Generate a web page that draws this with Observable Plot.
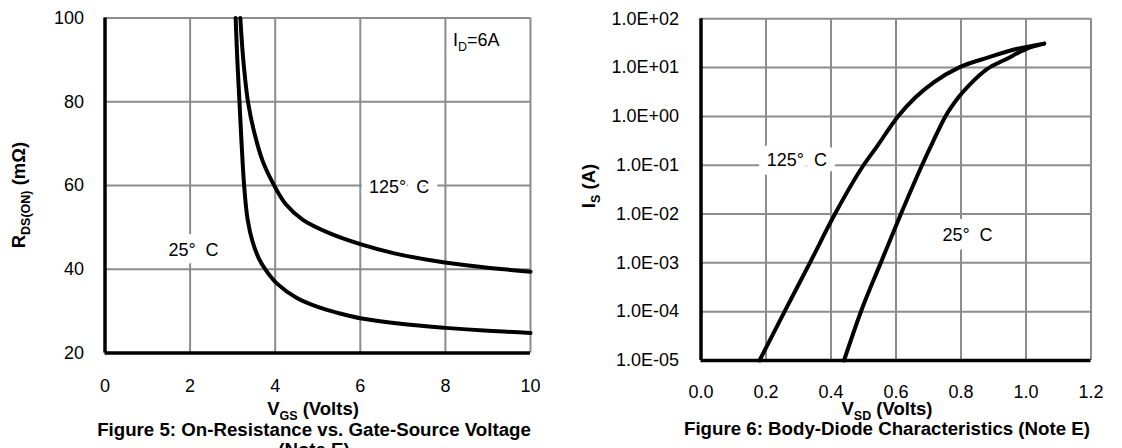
<!DOCTYPE html>
<html>
<head>
<meta charset="utf-8">
<script src="https://cdn.jsdelivr.net/npm/d3@7"></script>
<script src="https://cdn.jsdelivr.net/npm/@observablehq/plot@0.6"></script>
<style>
  html, body { margin: 0; padding: 0; background: #fff; }
  #wrap { position: relative; width: 1122px; height: 448px; overflow: hidden; background: #fff;
          font-family: "Liberation Sans", Arial, sans-serif; color: #000; }
  #wrap svg { position: absolute; top: 0; }
  .t { position: absolute; white-space: nowrap; font-size: 18px; line-height: 16px; }
  .b { font-weight: bold; }
  .ttl { font-size: 18.5px; }
  .cap { font-size: 18.7px; line-height: 20px; }
  .c { transform: translateX(-50%); text-align: center; }
  .r { transform: translate(-50%, -50%) rotate(-90deg); }
  sub { font-size: 12.5px; line-height: 0; vertical-align: -5px; }
</style>
</head>
<body>
<div id="wrap">
  <div class="t b ttl r" style="left:19px; top:195px;">R<sub>DS(ON)</sub> (mΩ)</div>
  <div class="t b ttl c" style="left:313px; top:401px;">V<sub>GS</sub> (Volts)</div>
  <div class="t b cap c" style="left:314px; top:420px;">Figure 5: On-Resistance vs. Gate-Source Voltage<br>(Note E)</div>
  <div class="t" style="left:453px; top:32px;">I<sub>D</sub>=6A</div>
  <div class="t b ttl r" style="left:589px; top:186px;">I<sub>S</sub> (A)</div>
  <div class="t b ttl c" style="left:887px; top:401px;">V<sub>SD</sub> (Volts)</div>
  <div class="t b cap c" style="left:887px; top:419px;">Figure 6: Body-Diode Characteristics (Note E)</div>
</div>
<script>
// ---------- Figure 5 data: RDS(ON) (mΩ) vs VGS (V) ----------
const vgs25  = [3.07, 3.11, 3.16, 3.21, 3.27, 3.35, 3.47, 3.62, 3.80, 4.05, 4.50, 5.00, 5.50, 6.00, 7.00, 8.00, 9.00, 10.0];
const rds25  = [100,  90,   80,   70,   60,   52,   46.5, 42.5, 39.5, 36.5, 33.2, 31.0, 29.5, 28.3, 26.9, 26.0, 25.3, 24.8];
const vgs125 = [3.18, 3.25, 3.36, 3.50, 3.70, 3.95, 4.25, 4.65, 5.30, 6.00, 6.80, 7.80, 8.80, 10.0];
const rds125 = [100,  90,   80,   73,   66,   60.5, 55.5, 51.8, 48.5, 46.0, 43.8, 41.9, 40.6, 39.4];
const xTicks5 = [0, 2, 4, 6, 8, 10];
const yTicks5 = [20, 40, 60, 80, 100];
const xGrid5 = [2, 4, 6, 8, 10];
const yGrid5 = [40, 60, 80, 100];
const labels5 = [
  {x: 6.91, y: 59.5, text: "125°\u00a0\u00a0C"},
  {x: 2.08, y: 44.5, text: "25°\u00a0\u00a0C"}
];

// ---------- Figure 6 data: IS (A) vs VSD (V) ----------
const vsd125 = [0.18, 0.257, 0.335, 0.412, 0.50, 0.539, 0.606, 0.661, 0.716, 0.793, 0.882, 0.97, 1.056];
const is125  = [1e-5, 1e-4,  1e-3,  1e-2,  0.1,  0.23,  1.0,   2.5,   5.0,   10,    16,    24,   31];
const vsd25  = [0.44, 0.492, 0.553, 0.615, 0.68, 0.715, 0.752, 0.793, 0.83, 0.88, 0.94, 1.0, 1.056];
const is25   = [1e-5, 1e-4,  1e-3,  1e-2,  0.1,  0.316, 1.0,   2.5,   4.7,  9.3,  15,   24,  31];
const xTicks6 = [0, 0.2, 0.4, 0.6, 0.8, 1.0, 1.2];
const yTicks6 = [1e-5, 1e-4, 1e-3, 1e-2, 1e-1, 1e0, 1e1, 1e2];
const yTickLabels6 = ["1.0E-05", "1.0E-04", "1.0E-03", "1.0E-02", "1.0E-01", "1.0E+00", "1.0E+01", "1.0E+02"];
const xGrid6 = [0.2, 0.4, 0.6, 0.8, 1.0, 1.2];
const yGrid6 = [1e-4, 1e-3, 1e-2, 1e-1, 1e0, 1e1, 1e2];
const labels6 = [
  {x: 0.295, y: 0.125, text: "125°\u00a0\u00a0C"},
  {x: 0.82, y: 0.0036, text: "25°\u00a0\u00a0C"}
];

const GRID = "#8c8c8c";
const style = {fontFamily: '"Liberation Sans", Arial, sans-serif', fontSize: "18px", color: "#000", background: "transparent", overflow: "visible"};
const toRows = (xs, ys) => xs.map((x, i) => ({x, y: ys[i]}));

const fig5 = Plot.plot({
  width: 560, height: 420,
  marginLeft: 104.5, marginRight: 30, marginTop: 17.5, marginBottom: 67.5,
  style,
  x: {domain: [0, 10], ticks: xTicks5, tickSize: 0, tickPadding: 26, label: null, tickFormat: d => String(d)},
  y: {domain: [20, 100], ticks: yTicks5, tickSize: 0, tickPadding: 21, label: null, tickFormat: d => String(d)},
  marks: [
    Plot.ruleX(xGrid5, {stroke: GRID, strokeWidth: 2}),
    Plot.ruleY(yGrid5, {stroke: GRID, strokeWidth: 2}),
    Plot.text(labels5, {x: "x", y: "y", text: "text", fill: "#000", stroke: "#fff", strokeWidth: 18, strokeLinejoin: "round", fontSize: 18}),
    Plot.line(toRows(vgs25, rds25), {x: "x", y: "y", curve: "catmull-rom", stroke: "#000", strokeWidth: 4}),
    Plot.line(toRows(vgs125, rds125), {x: "x", y: "y", curve: "catmull-rom", stroke: "#000", strokeWidth: 4}),
    Plot.ruleX([0], {stroke: "#000", strokeWidth: 3.5}),
    Plot.ruleY([20], {stroke: "#000", strokeWidth: 3.5})
  ]
});
fig5.style.left = "0px";

const fmt6 = new Map(yTicks6.map((t, i) => [t, yTickLabels6[i]]));
const fig6 = Plot.plot({
  width: 562, height: 420,
  marginLeft: 140.5, marginRight: 31.5, marginTop: 18.3, marginBottom: 60,
  style,
  x: {domain: [0, 1.2], ticks: xTicks6, tickSize: 0, tickPadding: 25, label: null, tickFormat: d3.format(".1f")},
  y: {type: "log", domain: [1e-5, 1e2], ticks: yTicks6, tickSize: 0, tickPadding: 22, label: null, tickFormat: d => fmt6.get(d) ?? ""},
  marks: [
    Plot.ruleX(xGrid6, {stroke: GRID, strokeWidth: 2}),
    Plot.ruleY(yGrid6, {stroke: GRID, strokeWidth: 2}),
    Plot.text(labels6, {x: "x", y: "y", text: "text", fill: "#000", stroke: "#fff", strokeWidth: 18, strokeLinejoin: "round", fontSize: 18}),
    Plot.line(toRows(vsd125, is125), {x: "x", y: "y", curve: "monotone-x", stroke: "#000", strokeWidth: 4}),
    Plot.line(toRows(vsd25, is25), {x: "x", y: "y", curve: "monotone-x", stroke: "#000", strokeWidth: 4}),
    Plot.ruleX([0], {stroke: "#000", strokeWidth: 3.5}),
    Plot.ruleY([1e-5], {stroke: "#000", strokeWidth: 3.5})
  ]
});
fig6.style.left = "560px";

const wrap = document.getElementById("wrap");
wrap.insertBefore(fig6, wrap.firstChild);
wrap.insertBefore(fig5, wrap.firstChild);
</script>
</body>
</html>
